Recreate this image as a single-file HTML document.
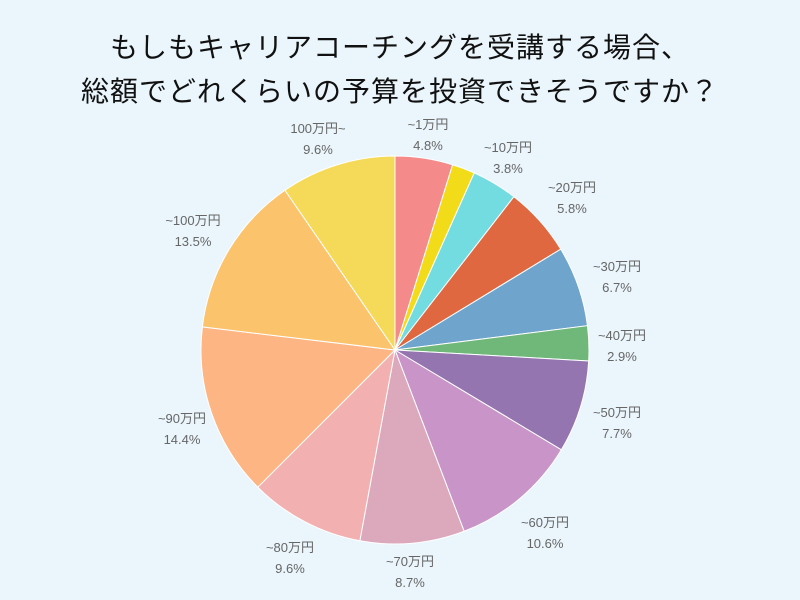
<!DOCTYPE html>
<html><head><meta charset="utf-8"><style>
html,body{margin:0;padding:0;}
body{width:800px;height:600px;background:#eaf6fc;position:relative;overflow:hidden;font-family:"Liberation Sans","Noto Sans CJK JP",sans-serif;}
.t{position:absolute;left:0;width:800px;text-align:center;font-size:28px;color:#111;letter-spacing:1px;}
.l{position:absolute;font-size:13px;color:#666;text-align:center;line-height:21px;width:80px;}
</style></head><body>
<div class="t" style="top:26px">もしもキャリアコーチングを受講する場合、</div>
<div class="t" style="top:70px">総額でどれくらいの予算を投資できそうですか？</div>
<svg id="s" width="800" height="600" style="position:absolute;left:0;top:0"></svg>
<div class="l" style="left:278px;top:118px">100万円~<br>9.6%</div>
<div class="l" style="left:388px;top:114px">~1万円<br>4.8%</div>
<div class="l" style="left:468px;top:137px">~10万円<br>3.8%</div>
<div class="l" style="left:532px;top:177px">~20万円<br>5.8%</div>
<div class="l" style="left:577px;top:256px">~30万円<br>6.7%</div>
<div class="l" style="left:582px;top:325px">~40万円<br>2.9%</div>
<div class="l" style="left:577px;top:402px">~50万円<br>7.7%</div>
<div class="l" style="left:505px;top:512px">~60万円<br>10.6%</div>
<div class="l" style="left:370px;top:551px">~70万円<br>8.7%</div>
<div class="l" style="left:250px;top:537px">~80万円<br>9.6%</div>
<div class="l" style="left:142px;top:408px">~90万円<br>14.4%</div>
<div class="l" style="left:153px;top:210px">~100万円<br>13.5%</div>
<script>
var d=[[4.8,'#f48a8a'],[1.9,'#f2dc1a'],[3.8,'#72dce0'],[5.8,'#e06840'],[6.7,'#6fa4cc'],[2.9,'#6fb87a'],[7.7,'#9475b0'],[10.6,'#c994c8'],[8.7,'#dca8bc'],[9.6,'#f2b0b0'],[14.4,'#fdb583'],[13.5,'#fbc36b'],[9.6,'#f5da5a']];
var cx=395,cy=350,r=194,tot=0;d.forEach(function(x){tot+=x[0]});
var a=0,h='';
d.forEach(function(x){var a1=a+x[0]/tot*2*Math.PI;
var p=function(t){return (cx+r*Math.sin(t)).toFixed(2)+','+(cy-r*Math.cos(t)).toFixed(2)};
h+='<path d="M'+cx+','+cy+'L'+p(a)+'A'+r+','+r+' 0 '+((a1-a)>Math.PI?1:0)+' 1 '+p(a1)+'Z" fill="'+x[1]+'" stroke="#fff" stroke-width="1"/>';a=a1;});
document.getElementById('s').innerHTML=h;
</script>
</body></html>
